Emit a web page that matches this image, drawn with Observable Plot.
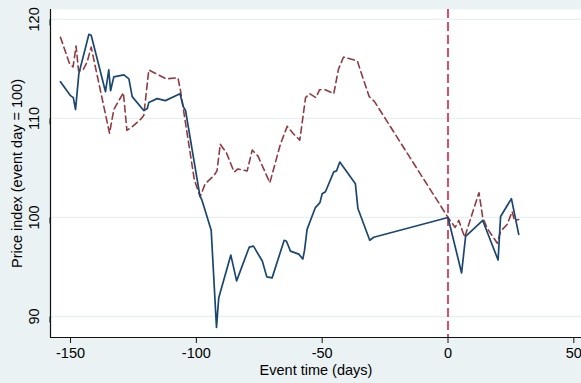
<!DOCTYPE html>
<html>
<head>
<meta charset="utf-8">
<script src="https://cdn.jsdelivr.net/npm/d3@7"></script>
<script src="https://cdn.jsdelivr.net/npm/@observablehq/plot@0.6"></script>
<style>
  html, body { margin: 0; padding: 0; background: #eaf2f3; }
  #chart { width: 581px; height: 383px; }
</style>
</head>
<body>
<div id="chart"></div>
<script>
// Solid navy series (event time in days, price index)
const solidDays = [-154.0,-150.0,-148.9,-148.0,-146.7,-142.7,-141.8,-136.1,-134.8,-134.1,-132.8,-128.8,-126.8,-125.5,-120.9,-119.5,-118.9,-115.6,-112.3,-106.5,-105.2,-104.3,-98.6,-97.7,-94.1,-92.0,-91.1,-86.3,-84.0,-79.0,-77.3,-73.8,-72.0,-69.9,-65.1,-64.2,-62.6,-59.3,-57.7,-57.0,-56.0,-52.7,-50.9,-50.0,-48.7,-45.4,-44.3,-43.0,-36.8,-35.8,-31.1,-29.5,0,5.4,7.0,13.8,19.9,20.9,25.2,28.1];
const solidIndex = [113.7,112.3,112.1,110.9,114.5,118.5,118.4,112.7,114.9,112.8,114.2,114.4,114.0,112.2,110.8,111.0,111.6,112.0,111.8,112.5,111.2,110.8,102.2,101.7,98.7,88.9,91.9,96.2,93.6,97.0,97.1,95.6,94.0,93.9,97.7,97.6,96.6,96.3,95.8,96.7,98.8,101.0,101.5,102.4,102.6,104.6,104.7,105.6,103.4,100.9,97.7,98.0,100,94.4,98.1,99.7,95.7,100.1,101.9,98.3];

// Dashed maroon series
const dashedDays = [-154.0,-150.5,-149.0,-147.8,-146.8,-145.0,-143.4,-141.8,-134.5,-132.8,-129.0,-127.6,-125.8,-122.2,-120.9,-118.9,-112.0,-107.3,-106.3,-100.8,-98.5,-96.5,-93.1,-91.8,-90.5,-88.0,-85.5,-84.9,-83.5,-79.8,-77.8,-75.5,-70.8,-66.6,-63.9,-61.6,-58.9,-56.6,-55.0,-52.5,-51.0,-48.8,-45.4,-43.5,-41.5,-38.7,-36.0,-34.1,-31.3,-29.2,0,2.8,4.3,6.6,12.3,13.8,15.6,19.6,20.9,23.5,25.5,26.4,28.1];
const dashedIndex = [118.2,115.6,115.2,117.3,114.8,114.9,115.7,117.2,108.5,110.9,112.6,108.8,109.1,109.9,110.3,114.9,114.0,114.1,112.8,103.8,102.1,103.4,104.2,104.7,107.4,106.5,104.9,104.6,104.9,104.7,106.8,106.2,103.5,107.4,109.2,108.5,107.8,112.1,112.5,112.1,112.9,112.9,112.5,115.0,116.2,116.0,115.8,114.3,112.2,111.7,100,99.0,99.7,98.0,102.5,100.0,98.9,97.4,98.6,99.3,100.6,99.7,99.8];

const xTicks = [-150, -100, -50, 0, 50];
const yTicks = [90, 100, 110, 120];
const eventDay = [0];
const xLabel = "Event time (days)";
const yLabel = "Price index (event day = 100)";

const solid = solidDays.map((d, i) => ({day: d, index: solidIndex[i]}));
const dashed = dashedDays.map((d, i) => ({day: d, index: dashedIndex[i]}));

const xDomain = [-157.96, 53.05];
const yDomain = [87.88, 121.0];

const chart = Plot.plot({
  width: 581,
  height: 383,
  marginLeft: 50,
  marginRight: 0,
  marginTop: 9,
  marginBottom: 46,
  x: {domain: xDomain},
  y: {domain: yDomain},
  style: {background: "#eaf2f3", fontFamily: "'Liberation Sans', Arial, sans-serif", fontSize: "14.5px", color: "#000", overflow: "visible"},
  marks: [
    Plot.frame({fill: "white", stroke: "none"}),
    Plot.ruleY(yTicks, {stroke: "#e6eff2", strokeWidth: 1.3}),
    Plot.ruleX(eventDay, {stroke: "#d6304f", strokeWidth: 1.7, strokeDasharray: "9,4"}),
    Plot.line(dashed, {x: "day", y: "index", stroke: "#923a40", strokeWidth: 1.6, strokeDasharray: "6.5,4"}),
    Plot.line(solid, {x: "day", y: "index", stroke: "#1a476f", strokeWidth: 1.7}),
    Plot.ruleX([xDomain[0]], {stroke: "#111", strokeWidth: 1.2}),
    Plot.ruleY([yDomain[0]], {stroke: "#111", strokeWidth: 1.2}),
    Plot.axisX({ticks: xTicks, tickSize: 6, tickPadding: 4, tickFormat: d => String(d), label: null, stroke: "#111"}),
    Plot.axisY({ticks: yTicks, tickSize: 6, tickPadding: 10, rotate: -90, textAnchor: "middle", tickFormat: d => String(d), label: null, stroke: "#111"}),
    Plot.text([xLabel], {frameAnchor: "bottom", dy: 33, text: d => d, textAnchor: "middle", lineAnchor: "middle", fontSize: 14.5}),
    Plot.text([yLabel], {frameAnchor: "left", dx: -33, rotate: -90, text: d => d, textAnchor: "middle", lineAnchor: "middle", fontSize: 14.5})
  ]
});
document.getElementById("chart").appendChild(chart);
</script>
</body>
</html>
